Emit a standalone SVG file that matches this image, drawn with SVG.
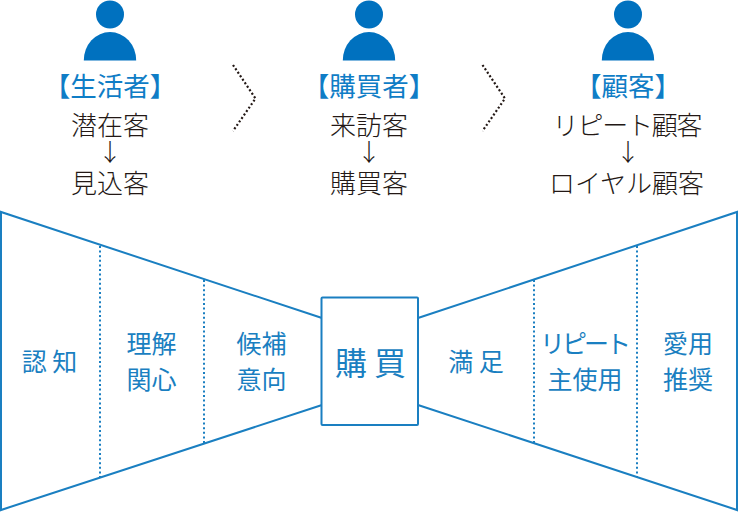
<svg xmlns="http://www.w3.org/2000/svg" width="738" height="512" viewBox="0 0 738 512">
<style>
text{font-family:"Noto Sans CJK JP","Noto Sans CJK SC",sans-serif;text-anchor:middle;font-weight:400}
.h{font-size:26.500px;fill:#0f7dc6}
.k{font-size:26px;fill:#231815;font-weight:300}
.a{font-size:24px;fill:#231815;font-weight:300}
.l{font-size:25px;fill:#1a7fc1}
.b{font-size:32px;fill:#1a7fc1}
.p{fill:#0071bf}
.s{fill:none;stroke:#1a7fc1;stroke-width:2}
.d{fill:none;stroke:#1a7fc1;stroke-width:2;stroke-dasharray:2 2.600}
.c{fill:none;stroke:#231815;stroke-width:2.200;stroke-dasharray:2 2.200}
</style>
<defs>
<g id="person"><circle class="p" cx="0" cy="14.500" r="14"/><path class="p" d="M-26.200 60.500A26.200 28.500 0 0 1 26.200 60.500Z"/></g>
</defs>
<rect width="738" height="512" fill="#fff"/>
<g id="connectors">
<path class="c" d="M233 65L255.500 98.500L233 131"/>
<path class="c" d="M482.500 65L505 98.500L482.500 131"/>
</g>
<g id="funnel-left">
<path class="s" d="M322 318L1 212V510L322 405"/>
<path class="d" d="M100 246V477"/>
<path class="d" d="M204 280V443"/>
</g>
<g id="funnel-right">
<path class="s" d="M418 318L737 212V510L418 405"/>
<path class="d" d="M534 280V443"/>
<path class="d" d="M637 246V477"/>
</g>
<g id="node-consumer">
<use href="#person" x="110"/>
<text class="h" x="110" y="96">【生活者】</text>
<text class="k" x="110" y="135">潜在客</text>
<text class="a" x="110" y="161">↓</text>
<text class="k" x="110" y="193">見込客</text>
</g>
<g id="node-buyer">
<use href="#person" x="369"/>
<text class="h" x="369" y="96">【購買者】</text>
<text class="k" x="369" y="135">来訪客</text>
<text class="a" x="369" y="161">↓</text>
<text class="k" x="369" y="193">購買客</text>
</g>
<g id="node-customer">
<use href="#person" x="628"/>
<text class="h" x="628" y="96">【顧客】</text>
<text class="k" x="627" y="135" letter-spacing="-1.200">リピート顧客</text>
<text class="a" x="628" y="161">↓</text>
<text class="k" x="626.500" y="193">ロイヤル顧客</text>
</g>
<g id="node-purchase">
<rect x="321.500" y="297.500" width="96.500" height="127.500" fill="#fff" stroke="#1a7fc1" stroke-width="2" rx="1"/>
<text class="b" x="370.500" y="375">購 買</text>
</g>
<g id="stage-1"><text class="l" x="49.500" y="371">認 知</text></g>
<g id="stage-2"><text class="l" x="151.500" y="353">理解</text><text class="l" x="151.500" y="389">関心</text></g>
<g id="stage-3"><text class="l" x="261.500" y="353">候補</text><text class="l" x="261.500" y="389">意向</text></g>
<g id="stage-4"><text class="l" x="476" y="371">満 足</text></g>
<g id="stage-5"><text class="l" x="584" y="353" letter-spacing="-3">リピート</text><text class="l" x="585" y="389">主使用</text></g>
<g id="stage-6"><text class="l" x="688" y="353">愛用</text><text class="l" x="688" y="389">推奨</text></g>
</svg>
